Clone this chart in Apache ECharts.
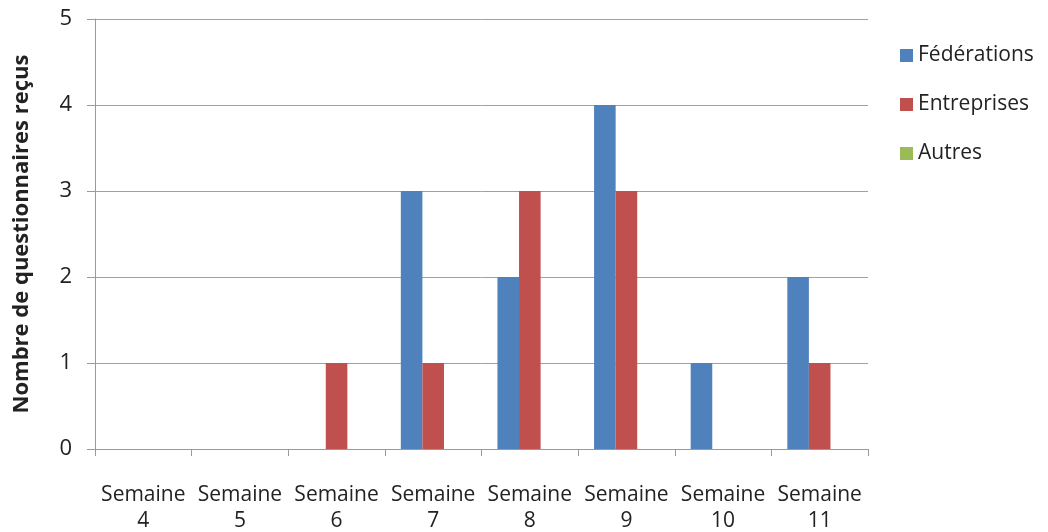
<!DOCTYPE html>
<html><head><meta charset="utf-8">
<script src="https://cdn.jsdelivr.net/npm/echarts@6/dist/echarts.min.js"></script>
<style>html,body{margin:0;padding:0;background:#fff}#c{width:1048px;height:532px}</style>
</head><body><div id="c"></div>
<script>
const categories = ["Semaine\n4","Semaine\n5","Semaine\n6","Semaine\n7","Semaine\n8","Semaine\n9","Semaine\n10","Semaine\n11"];
const federations = [0,0,0,3,2,4,1,2];
const entreprises = [0,0,1,1,3,3,0,1];
const autres = [0,0,0,0,0,0,0,0];
const seriesNames = ["Fédérations","Entreprises","Autres"];
const colors = ["#4F81BD","#C0504D","#9BBB59"];
const font = "'Open Sans', Lato, sans-serif";
const chart = echarts.init(document.getElementById('c'));
chart.setOption({
  animation:false,
  color: colors,
  grid:{left:95,right:180,top:19,bottom:83,outerBoundsMode:'none',containLabel:false},
  legend:{orient:'vertical',left:895,top:40,itemWidth:13,itemHeight:13,itemGap:28,icon:'rect',
    textStyle:{fontFamily:font,fontSize:21,color:'#222'}},
  xAxis:{type:'category',data:categories,
    axisLine:{lineStyle:{color:'#9a9a9a'}},
    axisTick:{show:true,length:7,lineStyle:{color:'#9a9a9a'}},
    axisLabel:{interval:0,margin:33,fontFamily:font,fontSize:21,color:'#222',lineHeight:26}},
  yAxis:{type:'value',min:0,max:5,interval:1,
    name:'Nombre de questionnaires reçus',nameLocation:'middle',nameGap:62,nameRotate:90,
    nameTextStyle:{fontFamily:font,fontSize:22,fontWeight:'bold',color:'#222'},
    axisLine:{show:true,lineStyle:{color:'#9a9a9a'}},
    axisTick:{show:true,length:8,lineStyle:{color:'#9a9a9a'}},
    splitLine:{lineStyle:{color:'#a0a0a0'}},
    axisLabel:{margin:23,fontFamily:font,fontSize:22,color:'#222'}},
  series:[
    {name:seriesNames[0],type:'bar',data:federations,barGap:'0%',barCategoryGap:'33%'},
    {name:seriesNames[1],type:'bar',data:entreprises,barGap:'0%',barCategoryGap:'33%'},
    {name:seriesNames[2],type:'bar',data:autres,barGap:'0%',barCategoryGap:'33%'}
  ]
});
</script></body></html>
